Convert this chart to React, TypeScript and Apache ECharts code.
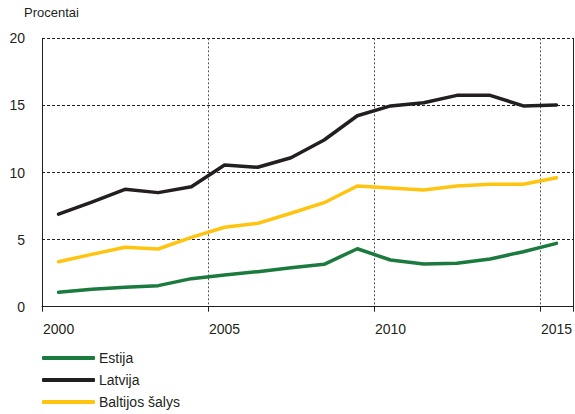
import React, { useEffect, useRef } from "react";
import * as echarts from "echarts";

const years = ["2000","2001","2002","2003","2004","2005","2006","2007","2008","2009","2010","2011","2012","2013","2014","2015"];
const estija = [1.07, 1.3, 1.45, 1.57, 2.09, 2.36, 2.61, 2.9, 3.16, 4.32, 3.48, 3.18, 3.23, 3.55, 4.1, 4.72];
const latvija = [6.9, 7.8, 8.75, 8.5, 8.94, 10.56, 10.39, 11.1, 12.42, 14.23, 14.96, 15.2, 15.75, 15.75, 14.96, 15.03];
const baltijos = [3.35, 3.9, 4.43, 4.3, 5.17, 5.92, 6.21, 6.96, 7.75, 8.99, 8.85, 8.7, 8.99, 9.12, 9.12, 9.61];
const yTicks = { min: 0, max: 20, interval: 5 };

const FONT = "Liberation Sans, Arial, sans-serif";
const TEXT = "#231f20";

export default function App() {
  const ref = useRef<HTMLDivElement>(null);
  useEffect(() => {
    if (!ref.current) return;
    const chart = echarts.init(ref.current, null, { renderer: "svg" });
    const mk = (name: string, data: number[], color: string) => ({
      name,
      type: "line",
      data,
      symbol: "none",
      lineStyle: { color, width: 3.5, cap: "round", join: "round" },
      itemStyle: { color },
      z: 3,
    });
    chart.setOption({
      animation: false,
      textStyle: { fontFamily: FONT },
      grid: { left: 42, top: 38.3, right: 0.5, bottom: 107.3 },
      graphic: [
        {
          type: "text",
          left: 24,
          top: 6,
          style: { text: "Procentai", font: `13px ${FONT}`, fill: TEXT },
        },
      ],
      legend: {
        orient: "vertical",
        left: 42,
        top: 350,
        height: 64,
        padding: 0,
        itemWidth: 53,
        itemHeight: 4,
        itemGap: 6,
        icon: "roundRect",
        textStyle: { fontSize: 14, color: TEXT, fontFamily: FONT, lineHeight: 16, padding: [0, 0, 0, -1] },
        data: ["Estija", "Latvija", "Baltijos šalys"],
      },
      xAxis: {
        type: "category",
        data: years,
        boundaryGap: true,
        axisLine: { show: true, lineStyle: { color: TEXT, width: 1 } },
        axisTick: { show: true, interval: 4, length: 5, lineStyle: { color: TEXT } },
        axisLabel: { interval: 4, fontSize: 14, color: TEXT, margin: 15, fontFamily: FONT },
        splitLine: { show: true, interval: 4, lineStyle: { color: "#555", type: [2, 2], width: 1 } },
      },
      yAxis: [
        {
          type: "value",
          min: yTicks.min,
          max: yTicks.max,
          interval: yTicks.interval,
          axisLine: { show: true, lineStyle: { color: TEXT, width: 1 } },
          axisTick: { show: false },
          axisLabel: { fontSize: 14, color: TEXT, margin: 17, fontFamily: FONT },
          splitLine: { show: true, lineStyle: { color: TEXT, type: [3, 2], width: 1 } },
        },
        {
          type: "value",
          position: "right",
          min: yTicks.min,
          max: yTicks.max,
          interval: yTicks.interval,
          axisLine: { show: true, lineStyle: { color: TEXT, width: 1 } },
          axisTick: { show: false },
          axisLabel: { show: false },
          splitLine: { show: false },
        },
      ],
      series: [
        mk("Estija", estija, "#1b7a3d"),
        mk("Latvija", latvija, "#231f20"),
        mk("Baltijos šalys", baltijos, "#ffc40f"),
      ],
    });
    return () => chart.dispose();
  }, []);
  return <div ref={ref} style={{ width: 575, height: 414, position: "absolute", left: 0, top: 0 }} />;
}
